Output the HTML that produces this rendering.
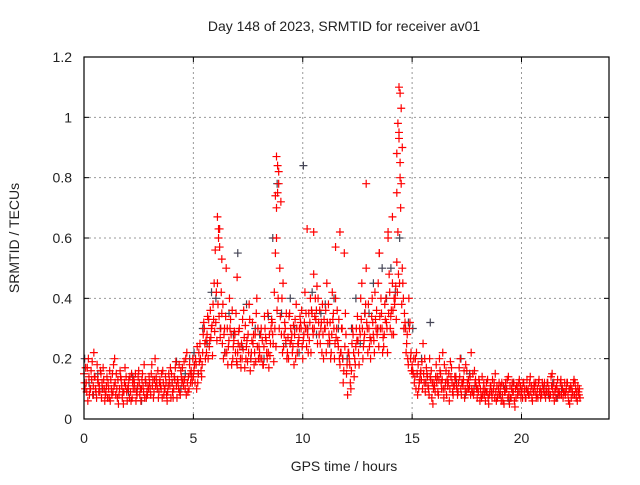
<!DOCTYPE html>
<html><head><meta charset="utf-8"><style>
body{margin:0;background:#fff}
svg text{font-family:"Liberation Sans",sans-serif;fill:#222}
</style></head><body>
<svg id="chart" width="640" height="480" viewBox="0 0 640 480">
<rect width="640" height="480" fill="#fff"/>
<text x="344" y="31" font-size="14" text-anchor="middle">Day 148 of 2023, SRMTID for receiver av01</text>
<text x="344" y="471" font-size="14" text-anchor="middle">GPS time / hours</text>
<text transform="translate(19,238) rotate(-90)" font-size="14" text-anchor="middle">SRMTID / TECUs</text>
<g id="grid"></g>
<g id="ticks"></g>
<g id="grey"></g>
<g id="red"></g>
<rect x="84" y="57" width="525" height="362" fill="none" stroke="#000" stroke-width="1.2"/>
</svg>
<script>
const xTicks=[0,5,10,15,20];
const yTicks=[0,0.2,0.4,0.6,0.8,1,1.2];
const yTickLabels=["0","0.2","0.4","0.6","0.8","1","1.2"];
const redHours=[0,1,2,3,4,5,6,7,8,9,10,11,12,13,14,15,16,17,18,19,20,21,22];
const redValsA=[
[0.15,0.12,0.2,0.1,0.08,0.14,0.18,0.11,0.07,0.13],
[0.09,0.12,0.06,0.15,0.2,0.1,0.08,0.13,0.05,0.11],
[0.1,0.14,0.07,0.12,0.09,0.16,0.06,0.11,0.13,0.08],
[0.12,0.18,0.09,0.14,0.07,0.11,0.16,0.1,0.06,0.13],
[0.15,0.1,0.19,0.12,0.08,0.17,0.13,0.22,0.1,0.16],
[0.14,0.2,0.12,0.25,0.18,0.3,0.22,0.33,0.27,0.38],
[0.56,0.45,0.63,0.35,0.28,0.5,0.24,0.33,0.2,0.28],
[0.18,0.3,0.25,0.36,0.2,0.28,0.16,0.32,0.22,0.4],
[0.24,0.3,0.18,0.27,0.35,0.21,0.32,0.42,0.6,0.82],
[0.72,0.45,0.3,0.22,0.35,0.28,0.18,0.38,0.25,0.32],
[0.2,0.42,0.3,0.26,0.36,0.48,0.33,0.4,0.25,0.38],
[0.3,0.45,0.28,0.22,0.35,0.4,0.26,0.18,0.3,0.55],
[0.15,0.22,0.1,0.28,0.18,0.34,0.3,0.45,0.26,0.5],
[0.38,0.2,0.32,0.42,0.28,0.55,0.35,0.24,0.4,0.6],
[0.3,0.45,0.38,0.52,0.95,0.78,0.4,0.3,0.2,0.32],
[0.18,0.12,0.22,0.1,0.16,0.25,0.09,0.14,0.2,0.07],
[0.12,0.18,0.08,0.15,0.22,0.1,0.13,0.06,0.17,0.11],
[0.14,0.09,0.2,0.12,0.07,0.16,0.1,0.22,0.08,0.13],
[0.1,0.06,0.14,0.08,0.12,0.05,0.11,0.09,0.15,0.07],
[0.08,0.12,0.05,0.1,0.14,0.07,0.09,0.04,0.11,0.13],
[0.09,0.12,0.07,0.1,0.14,0.06,0.11,0.08,0.13,0.09],
[0.1,0.07,0.12,0.08,0.15,0.06,0.11,0.09,0.13,0.07],
[0.08,0.12,0.05,0.1,0.13,0.07,0.09]];
const redValsB=[
[0.1,0.17,0.08,0.13,0.22,0.09,0.12,0.16,0.1,0.06],
[0.14,0.07,0.1,0.18,0.08,0.13,0.16,0.07,0.12,0.09],
[0.13,0.06,0.1,0.15,0.11,0.08,0.13,0.18,0.07,0.1],
[0.08,0.13,0.2,0.1,0.12,0.15,0.08,0.12,0.11,0.17],
[0.09,0.13,0.07,0.18,0.14,0.11,0.2,0.09,0.15,0.12],
[0.18,0.1,0.22,0.16,0.28,0.2,0.34,0.26,0.31,0.45],
[0.42,0.6,0.3,0.38,0.22,0.3,0.4,0.18,0.26,0.35],
[0.25,0.2,0.33,0.17,0.26,0.38,0.22,0.28,0.19,0.3],
[0.2,0.26,0.34,0.22,0.17,0.3,0.25,0.55,0.75,0.5],
[0.4,0.28,0.35,0.2,0.3,0.24,0.33,0.22,0.3,0.36],
[0.28,0.35,0.22,0.4,0.3,0.34,0.44,0.28,0.32,0.2],
[0.36,0.25,0.32,0.42,0.2,0.3,0.33,0.22,0.12,0.35],
[0.08,0.18,0.25,0.14,0.3,0.22,0.4,0.2,0.35,0.3],
[0.24,0.34,0.26,0.3,0.45,0.3,0.22,0.38,0.3,0.48],
[0.36,0.28,0.44,0.62,0.85,0.5,0.35,0.25,0.4,0.22],
[0.15,0.2,0.08,0.13,0.19,0.12,0.17,0.1,0.13,0.05],
[0.09,0.14,0.2,0.1,0.07,0.16,0.12,0.19,0.09,0.14],
[0.1,0.17,0.08,0.13,0.18,0.1,0.14,0.09,0.16,0.1],
[0.13,0.08,0.1,0.06,0.13,0.09,0.07,0.12,0.06,0.1],
[0.11,0.06,0.09,0.13,0.05,0.1,0.12,0.07,0.09,0.11],
[0.07,0.1,0.13,0.08,0.11,0.09,0.12,0.07,0.1,0.12],
[0.12,0.09,0.1,0.14,0.08,0.1,0.13,0.08,0.11,0.09],
[0.1,0.06,0.11,0.08,0.12,0.06,0.1]];
const redValsC=[
[0.12,0.09,0.14,0.16,0.11,0.1,0.13,0.09,0.12,0.1],
[0.11,0.1,0.13,0.09,0.12,0.07,0.1,0.11,0.09,0.14],
[0.11,0.09,0.12,0.1,0.08,0.12,0.1,0.09,0.12,0.11],
[0.1,0.11,0.13,0.12,0.09,0.1,0.12,0.14,0.09,0.11],
[0.12,0.14,0.11,0.1,0.16,0.13,0.1,0.12,0.18,0.14],
[0.16,0.18,0.15,0.2,0.22,0.25,0.28,0.24,0.3,0.33],
[0.32,0.38,0.27,0.25,0.3,0.22,0.26,0.28,0.24,0.22],
[0.22,0.24,0.2,0.27,0.24,0.22,0.2,0.25,0.28,0.24],
[0.22,0.2,0.24,0.26,0.22,0.25,0.28,0.3,0.36,0.3],
[0.28,0.24,0.26,0.27,0.25,0.22,0.28,0.3,0.27,0.3],
[0.26,0.3,0.28,0.32,0.35,0.3,0.36,0.32,0.3,0.28],
[0.3,0.32,0.26,0.28,0.3,0.27,0.24,0.22,0.2,0.24],
[0.18,0.2,0.16,0.22,0.24,0.26,0.28,0.3,0.28,0.32],
[0.3,0.26,0.28,0.33,0.3,0.34,0.3,0.28,0.32,0.35],
[0.34,0.36,0.4,0.42,0.45,0.38,0.3,0.22,0.18,0.2],
[0.16,0.14,0.15,0.12,0.13,0.15,0.12,0.11,0.14,0.12],
[0.11,0.12,0.13,0.12,0.1,0.12,0.11,0.1,0.12,0.11],
[0.11,0.12,0.1,0.11,0.1,0.12,0.11,0.1,0.09,0.11],
[0.09,0.1,0.08,0.1,0.09,0.08,0.09,0.1,0.09,0.08],
[0.09,0.08,0.09,0.1,0.08,0.07,0.09,0.1,0.08,0.09],
[0.1,0.09,0.1,0.08,0.09,0.1,0.09,0.1,0.09,0.08],
[0.09,0.1,0.09,0.08,0.1,0.09,0.1,0.09,0.08,0.09],
[0.09,0.08,0.1,0.09,0.08,0.09,0.08]];
const redValsD=[
[0.17,0.06,0.1,0.19,0.14,0.07,0.09,0.15,0.17,0.08],
[0.07,0.16,0.08,0.11,0.15,0.05,0.14,0.09,0.17,0.06],
[0.07,0.15,0.13,0.06,0.14,0.1,0.15,0.07,0.09,0.14],
[0.15,0.07,0.11,0.16,0.13,0.07,0.1,0.08,0.15,0.07],
[0.07,0.17,0.13,0.09,0.12,0.19,0.08,0.14,0.12,0.2],
[0.12,0.24,0.19,0.14,0.32,0.26,0.2,0.36,0.21,0.29],
[0.26,0.34,0.42,0.2,0.34,0.18,0.3,0.36,0.29,0.19],
[0.29,0.17,0.23,0.31,0.19,0.33,0.26,0.18,0.35,0.2],
[0.28,0.18,0.3,0.2,0.28,0.33,0.19,0.24,0.4,0.34],
[0.22,0.32,0.2,0.34,0.26,0.31,0.2,0.25,0.34,0.24],
[0.32,0.24,0.35,0.22,0.28,0.4,0.25,0.36,0.22,0.33],
[0.22,0.38,0.2,0.33,0.25,0.36,0.2,0.3,0.16,0.28],
[0.22,0.12,0.3,0.2,0.26,0.18,0.33,0.24,0.38,0.22],
[0.27,0.4,0.22,0.36,0.24,0.4,0.27,0.33,0.22,0.42],
[0.28,0.4,0.33,0.48,0.7,0.45,0.32,0.28,0.3,0.16],
[0.2,0.1,0.18,0.15,0.1,0.2,0.15,0.08,0.16,0.1],
[0.14,0.09,0.16,0.13,0.18,0.08,0.15,0.14,0.08,0.13],
[0.08,0.14,0.12,0.16,0.09,0.13,0.08,0.15,0.12,0.07],
[0.12,0.07,0.12,0.09,0.07,0.11,0.13,0.07,0.11,0.12],
[0.06,0.11,0.12,0.07,0.11,0.12,0.06,0.11,0.12,0.07],
[0.12,0.07,0.09,0.12,0.07,0.12,0.07,0.12,0.07,0.11],
[0.08,0.12,0.07,0.11,0.12,0.07,0.08,0.12,0.1,0.12],
[0.12,0.1,0.07,0.12,0.1,0.11,0.07]];
const spikeT=[6.1,6.15,6.2,8.8,8.85,8.9,8.75,8.8,10.2,11.7,12.9,14.4,14.45,14.5,14.35,14.4,14.3,14.45,14.3,14.1,13.5,11.5,10.5,6.3,7.0,13.9,14.55];
const spikeV=[0.67,0.63,0.57,0.87,0.84,0.78,0.74,0.7,0.63,0.62,0.78,1.1,1.08,1.03,0.98,0.93,0.88,0.8,0.75,0.67,0.55,0.57,0.62,0.53,0.47,0.62,0.9];
const greyHours=[0,2,4,5,6,7,8,9,10,11,12,13,14,15,17,19,21];
const greyVals=[
[0.2,0.12,0.08,0.15,0.1],
[0.09,0.14,0.1,0.06,0.12],
[0.12,0.19,0.1,0.15,0.2],
[0.22,0.15,0.3,0.25,0.42],
[0.4,0.3,0.22,0.35,0.28],
[0.55,0.24,0.38,0.2,0.3],
[0.28,0.2,0.34,0.6,0.78],
[0.35,0.25,0.4,0.3,0.22],
[0.84,0.3,0.42,0.28,0.35],
[0.38,0.25,0.4,0.3,0.2],
[0.2,0.3,0.4,0.25,0.35],
[0.35,0.45,0.3,0.5,0.4],
[0.5,0.42,0.6,0.3,0.32],
[0.3,0.15,0.2,0.12,0.32],
[0.12,0.2,0.08,0.15,0.1],
[0.08,0.1,0.06,0.12,0.09],
[0.1,0.08,0.12,0.07,0.1]];
const X0=84,X1=609,Y0=419,Y1=57,XMAX=24,YMAX=1.2;
function xs(t){return X0+(X1-X0)*t/XMAX;}
function ys(v){return Y0-(Y0-Y1)*v/YMAX;}
const NS="http://www.w3.org/2000/svg";
function mk(tag,attrs,parent){const e=document.createElementNS(NS,tag);for(const k in attrs)e.setAttribute(k,attrs[k]);parent.appendChild(e);return e;}
const grid=document.getElementById('grid'),ticks=document.getElementById('ticks');
xTicks.forEach(t=>{
 const x=xs(t);
 if(t>0){const g=mk('line',{x1:x,x2:x,y1:Y1,y2:Y0,stroke:'#999','stroke-dasharray':'2,3'},grid);
 
 }
 mk('line',{x1:x,x2:x,y1:Y0,y2:Y0-5,stroke:'#000'},ticks);
 mk('line',{x1:x,x2:x,y1:Y1,y2:Y1+5,stroke:'#000'},ticks);
 const l=mk('text',{x:x,y:443,'font-size':14,'text-anchor':'middle'},ticks);l.textContent=t;
 
 
});
yTicks.forEach((v,i)=>{
 const y=ys(v);
 if(v>0&&v<YMAX){const g=mk('line',{x1:X0,x2:X1,y1:y,y2:y,stroke:'#999','stroke-dasharray':'2,3'},grid);
 
 }
 mk('line',{x1:X0,x2:X0+5,y1:y,y2:y,stroke:'#000'},ticks);
 mk('line',{x1:X1,x2:X1-5,y1:y,y2:y,stroke:'#000'},ticks);
 const l=mk('text',{x:72,y:y+5,'font-size':14,'text-anchor':'end'},ticks);l.textContent=yTickLabels[i];
 
 
});
function plus(g,t,v,c,name){
 const x=xs(t),y=ys(v);
 const p=mk('path',{d:`M${x-4},${y}h8M${x},${y-4}v8`,stroke:c,'stroke-width':1.2},g);
 
 
}
const grey=document.getElementById('grey'),red=document.getElementById('red');
greyHours.forEach((h,i)=>greyVals[i].forEach((v,k)=>plus(grey,h+k*0.2+0.03,v,'#445','grey-point')));
redHours.forEach((h,i)=>{
 redValsA[i].forEach((v,k)=>plus(red,h+k*0.1,v,'#f00','red-point'));
 redValsB[i].forEach((v,k)=>plus(red,h+k*0.1+0.05,v,'#f00','red-point'));
 redValsC[i].forEach((v,k)=>plus(red,h+k*0.1+0.025,v,'#f00','red-point'));
 redValsD[i].forEach((v,k)=>plus(red,h+k*0.1+0.075,v,'#f00','red-point'));
});
spikeT.forEach((t,i)=>plus(red,t,spikeV[i],'#f00','red-point'));
</script>
</body></html>
